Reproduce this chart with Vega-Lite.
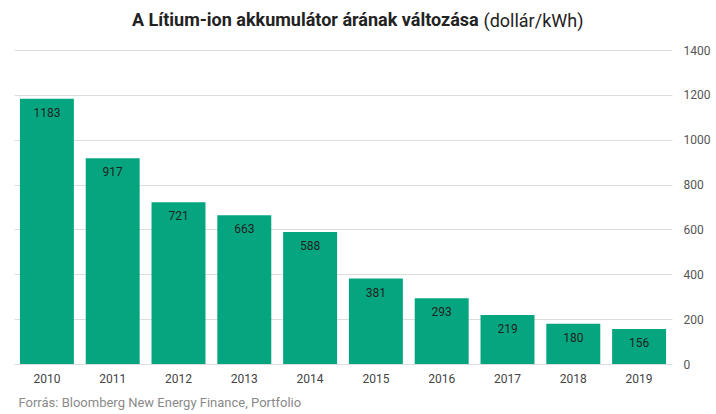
{
  "$schema": "https://vega.github.io/schema/vega-lite/v6.json",
  "width": 658,
  "height": 314,
  "autosize": {"type": "none"},
  "padding": {"left": 14, "top": 50, "right": 44, "bottom": 50},
  "background": "#ffffff",
  "config": {
    "view": {"stroke": null},
    "font": "Roboto"
  },
  "title": {
    "text": "A Lítium-ion akkumulátor árának változása",
    "anchor": "start",
    "frame": "group",
    "dx": 118,
    "offset": -18,
    "fontSize": 18,
    "fontWeight": "bold",
    "color": "#222222",
    "font": "Roboto"
  },
  "data": {
    "values": [
      {"ev": "2010", "ar": 1183},
      {"ev": "2011", "ar": 917},
      {"ev": "2012", "ar": 721},
      {"ev": "2013", "ar": 663},
      {"ev": "2014", "ar": 588},
      {"ev": "2015", "ar": 381},
      {"ev": "2016", "ar": 293},
      {"ev": "2017", "ar": 219},
      {"ev": "2018", "ar": 180},
      {"ev": "2019", "ar": 156}
    ]
  },
  "encoding": {
    "x": {
      "field": "ev",
      "type": "ordinal",
      "scale": {"paddingInner": 0.18, "paddingOuter": 0.09},
      "axis": {
        "title": "Forrás:  Bloomberg  New Energy Finance, Portfolio",
        "titleX": 4,
        "titleY": 38,
        "titleAlign": "left",
        "titleBaseline": "middle",
        "titleFontSize": 13,
        "titleFontWeight": "normal",
        "titleColor": "#8a8a8a",
        "labelAngle": 0,
        "labelFontSize": 12,
        "labelColor": "#444444",
        "labelPadding": 9,
        "domain": false,
        "ticks": false
      }
    },
    "y": {
      "field": "ar",
      "type": "quantitative",
      "scale": {"domain": [0, 1400]},
      "axis": {
        "orient": "right",
        "values": [0, 200, 400, 600, 800, 1000, 1200, 1400],
        "format": "d",
        "title": "(dollár/kWh)",
        "titleAngle": 0,
        "titleX": -189,
        "titleY": -29,
        "titleAlign": "left",
        "titleBaseline": "middle",
        "titleFontSize": 18,
        "titleFontWeight": "normal",
        "titleColor": "#222222",
        "labelFontSize": 12,
        "labelColor": "#555555",
        "labelPadding": 11,
        "domain": false,
        "ticks": false,
        "gridColor": "#dddddd",
        "gridWidth": 1
      }
    }
  },
  "layer": [
    {"mark": {"type": "bar", "color": "#05a67f"}},
    {
      "mark": {
        "type": "text",
        "dy": 14,
        "baseline": "middle",
        "fontSize": 12,
        "color": "#222222"
      },
      "encoding": {"text": {"field": "ar", "type": "quantitative"}}
    }
  ]
}
